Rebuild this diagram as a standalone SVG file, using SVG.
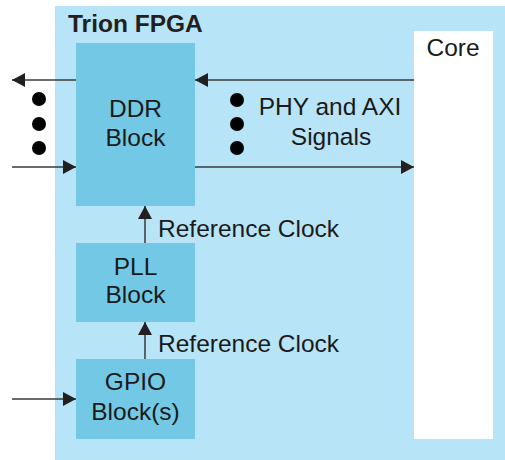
<svg xmlns="http://www.w3.org/2000/svg" width="505" height="460" viewBox="0 0 505 460">
<defs>
<marker id="ah" markerWidth="13" markerHeight="14" refX="13" refY="7" orient="auto" markerUnits="userSpaceOnUse">
<path d="M0,0 L13,7 L0,14 Z" fill="#231f20"/>
</marker>
</defs>
<style>
.t{font-family:"Liberation Sans",Arial,sans-serif;font-size:24.5px;fill:#1a1a1a}
.c{text-anchor:middle}
.blk{fill:#73c9e5}
.ln{stroke:#3a3a3a;stroke-width:1.5;fill:none}
.dot{fill:#000}
</style>
<rect x="55" y="6" width="450" height="454" fill="#b8e4f8"/>
<text class="t" x="68" y="32" style="font-weight:bold;font-size:24.5px;fill:#231f20">Trion FPGA</text>
<g id="core">
<rect x="414" y="31" width="79" height="408" fill="#ffffff"/>
<text class="t c" x="453" y="56">Core</text>
</g>
<g id="ddr">
<rect class="blk" x="76" y="43" width="119" height="163"/>
<text class="t c" x="135.5" y="117">DDR</text>
<text class="t c" x="135.5" y="146">Block</text>
</g>
<g id="pll">
<rect class="blk" x="76" y="243" width="119" height="79"/>
<text class="t c" x="135.5" y="275">PLL</text>
<text class="t c" x="135.5" y="303">Block</text>
</g>
<g id="gpio">
<rect class="blk" x="76" y="359" width="119" height="80"/>
<text class="t c" x="135.5" y="390">GPIO</text>
<text class="t c" x="135.5" y="420">Block(s)</text>
</g>
<g id="connectors">
<line class="ln" x1="76" y1="80" x2="12" y2="80" marker-end="url(#ah)"/>
<line class="ln" x1="12" y1="167" x2="76" y2="167" marker-end="url(#ah)"/>
<line class="ln" x1="414" y1="80" x2="195" y2="80" marker-end="url(#ah)"/>
<line class="ln" x1="195" y1="167" x2="414" y2="167" marker-end="url(#ah)"/>
<line class="ln" x1="145" y1="243" x2="145" y2="206" marker-end="url(#ah)"/>
<line class="ln" x1="145" y1="359" x2="145" y2="322" marker-end="url(#ah)"/>
<line class="ln" x1="12" y1="399" x2="76" y2="399" marker-end="url(#ah)"/>
</g>
<g id="dots">
<circle class="dot" cx="39" cy="99" r="7"/>
<circle class="dot" cx="39" cy="124" r="7"/>
<circle class="dot" cx="39" cy="148" r="7"/>
<circle class="dot" cx="237" cy="100" r="7"/>
<circle class="dot" cx="237" cy="124" r="7"/>
<circle class="dot" cx="237" cy="148" r="7"/>
</g>
<text class="t c" x="330" y="115">PHY and AXI</text>
<text class="t c" x="331" y="145">Signals</text>
<text class="t" x="158" y="237">Reference Clock</text>
<text class="t" x="158" y="352">Reference Clock</text>
</svg>
